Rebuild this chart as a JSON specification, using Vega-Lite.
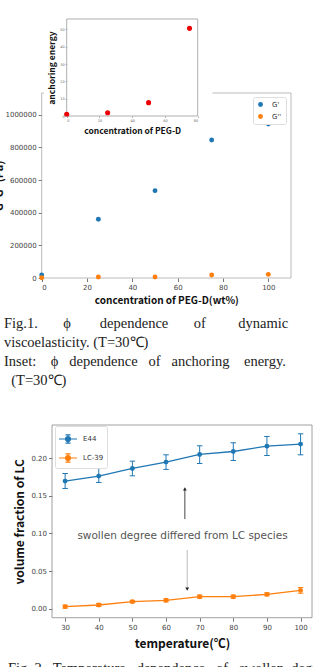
{
  "$schema": "https://vega.github.io/schema/vega-lite/v6.json",
  "width": 313,
  "height": 667,
  "autosize": {"type": "none"},
  "padding": 0,
  "background": "white",
  "config": {
    "view": {"stroke": null},
    "axis": {
      "grid": false,
      "domain": false,
      "labelFont": "DejaVu Sans",
      "labelColor": "#444",
      "labelFontSize": 7,
      "labelPadding": 2,
      "tickColor": "#555",
      "tickSize": 3.5,
      "tickWidth": 0.8,
      "titleFont": "Noto Sans CJK JP",
      "titleFontWeight": "bold",
      "titleColor": "#111"
    }
  },
  "datasets": {
    "viscoelastic": [
      {"conc": 0, "series": "G'", "modulus": 18000},
      {"conc": 25, "series": "G'", "modulus": 360000},
      {"conc": 50, "series": "G'", "modulus": 535000},
      {"conc": 75, "series": "G'", "modulus": 845000},
      {"conc": 100, "series": "G'", "modulus": 943000},
      {"conc": 0, "series": "G''", "modulus": 1500},
      {"conc": 25, "series": "G''", "modulus": 6000},
      {"conc": 50, "series": "G''", "modulus": 6000},
      {"conc": 75, "series": "G''", "modulus": 18000},
      {"conc": 100, "series": "G''", "modulus": 22000}
    ],
    "anchoring": [
      {"conc": 0, "energy": 1.0},
      {"conc": 25, "energy": 1.9},
      {"conc": 50, "energy": 7.7},
      {"conc": 75, "energy": 50.6}
    ],
    "volume": [
      {"series": "E44", "temp": 30, "v": 0.1695, "lo": 0.1597, "hi": 0.1796},
      {"series": "E44", "temp": 40, "v": 0.1761, "lo": 0.1677, "hi": 0.1872},
      {"series": "E44", "temp": 50, "v": 0.1863, "lo": 0.1765, "hi": 0.196},
      {"series": "E44", "temp": 60, "v": 0.1947, "lo": 0.185, "hi": 0.2044},
      {"series": "E44", "temp": 70, "v": 0.2049, "lo": 0.1929, "hi": 0.2164},
      {"series": "E44", "temp": 80, "v": 0.2088, "lo": 0.1969, "hi": 0.2204},
      {"series": "E44", "temp": 90, "v": 0.2159, "lo": 0.2035, "hi": 0.2288},
      {"series": "E44", "temp": 100, "v": 0.2186, "lo": 0.2044, "hi": 0.2323},
      {"series": "LC-39", "temp": 30, "v": 0.0027, "lo": 0.0007, "hi": 0.0047},
      {"series": "LC-39", "temp": 40, "v": 0.0049, "lo": 0.003, "hi": 0.0068},
      {"series": "LC-39", "temp": 50, "v": 0.0093, "lo": 0.0078, "hi": 0.011},
      {"series": "LC-39", "temp": 60, "v": 0.0111, "lo": 0.009, "hi": 0.013},
      {"series": "LC-39", "temp": 70, "v": 0.0159, "lo": 0.014, "hi": 0.018},
      {"series": "LC-39", "temp": 80, "v": 0.0159, "lo": 0.014, "hi": 0.018},
      {"series": "LC-39", "temp": 90, "v": 0.019, "lo": 0.017, "hi": 0.021},
      {"series": "LC-39", "temp": 100, "v": 0.0243, "lo": 0.0205, "hi": 0.028}
    ],
    "arrows": [
      {"dir": "up", "x": 65.6, "from": 0.119, "tip": 0.159},
      {"dir": "down", "x": 66.3, "from": 0.078, "tip": 0.026}
    ],
    "note": [
      {"x": 64.9, "y": 0.0965, "label": "swollen degree differed from LC species"}
    ],
    "caption1": [
      {"line": 1, "text": "Fig.1.\u00a0\u00a0\u00a0\u00a0\u00a0\u00a0\u00a0ϕ\u00a0\u00a0\u00a0\u00a0\u00a0\u00a0\u00a0\u00a0dependence\u00a0\u00a0\u00a0\u00a0\u00a0\u00a0\u00a0of\u00a0\u00a0\u00a0\u00a0\u00a0\u00a0\u00a0\u00a0\u00a0dynamic"},
      {"line": 2, "text": "viscoelasticity. (T=30℃)"},
      {"line": 3, "text": "Inset:\u00a0\u00a0\u00a0\u00a0ϕ\u00a0\u00a0\u00a0dependence\u00a0\u00a0\u00a0of\u00a0\u00a0\u00a0anchoring\u00a0\u00a0\u00a0\u00a0energy."},
      {"line": 4, "text": "\u200b\u00a0\u00a0(T=30℃)"}
    ],
    "caption2": [
      {"text": "Fig.\u00a02.\u00a0\u00a0Temperature\u00a0\u00a0\u00a0dependence\u00a0\u00a0\u00a0of\u00a0\u00a0\u00a0swollen\u00a0\u00a0degree"}
    ]
  },
  "resolve": {
    "scale": {"x": "independent", "y": "independent", "color": "independent"},
    "axis": {"x": "independent", "y": "independent"},
    "legend": {"color": "independent"}
  },
  "layer": [
    {
      "layer": [
        {
          "data": {"values": [{}]},
          "mark": {"type": "rect", "fill": null, "stroke": "#aaa", "strokeWidth": 0.8},
          "encoding": {
            "x": {"datum": 0, "type": "quantitative",
              "scale": {"domain": [0, 110], "range": [41.7, 291], "nice": false, "zero": false},
              "axis": {"orient": "bottom", "offset": -389, "values": [0, 20, 40, 60, 80, 100], "title": "concentration of PEG-D(wt%)", "titleFontSize": 10, "titlePadding": 5}},
            "x2": {"datum": 110},
            "y": {"datum": 0, "type": "quantitative",
              "scale": {"domain": [0, 1133000], "range": [278, 93], "nice": false, "zero": false},
              "axis": {"orient": "left", "offset": -41.7, "values": [0, 200000, 400000, 600000, 800000, 1000000], "format": "d", "title": "G' G''(Pa)", "titleFontSize": 11, "titlePadding": 1}},
            "y2": {"datum": 1133000}
          }
        },
        {
          "data": {"name": "viscoelastic"},
          "mark": {"type": "point", "filled": true, "size": 24, "opacity": 1},
          "encoding": {
            "x": {"field": "conc", "type": "quantitative"},
            "y": {"field": "modulus", "type": "quantitative"},
            "color": {"field": "series", "type": "nominal", "sort": null,
              "scale": {"domain": ["G'", "G''"], "range": ["#1f77b4", "#ff7f0e"]},
              "legend": {"orient": "none", "legendX": 253, "legendY": 97, "title": null, "symbolType": "circle", "symbolSize": 24, "labelFont": "DejaVu Sans", "labelFontSize": 7, "labelColor": "#333", "strokeColor": "#ddd", "fillColor": "white", "padding": 4, "cornerRadius": 2, "rowPadding": 4, "labelOffset": 8}}
          }
        }
      ]
    },
    {
      "layer": [
        {
          "data": {"values": [{}]},
          "mark": {"type": "rect", "fill": "white", "stroke": null},
          "encoding": {
            "x": {"datum": -14, "type": "quantitative",
              "scale": {"domain": [0, 80], "range": [66.7, 197.7], "nice": false, "zero": false},
              "axis": {"orient": "bottom", "offset": -551, "values": [0, 10, 20, 30, 40, 50, 60, 70, 80], "labelFontSize": 3.5, "tickSize": 1.5, "labelPadding": 1, "tickColor": "#999", "labelColor": "#666", "title": "concentration of PEG-D", "titleFontSize": 8.5, "titlePadding": 4, "zindex": 1}},
            "x2": {"datum": 89},
            "y": {"datum": -12, "type": "quantitative",
              "scale": {"domain": [0, 56], "range": [116, 19], "nice": false, "zero": false},
              "axis": {"orient": "left", "offset": -66.7, "values": [0, 10, 20, 30, 40, 50], "labelFontSize": 3.5, "tickSize": 1.5, "labelPadding": 1, "tickColor": "#999", "labelColor": "#666", "title": "anchoring energy", "titleFontSize": 8.5, "titlePadding": 3, "zindex": 1}},
            "y2": {"datum": 67}
          }
        },
        {
          "data": {"values": [{}]},
          "mark": {"type": "rect", "fill": null, "stroke": "#999", "strokeWidth": 0.8},
          "encoding": {
            "x": {"datum": 0, "type": "quantitative"},
            "x2": {"datum": 80},
            "y": {"datum": 0, "type": "quantitative"},
            "y2": {"datum": 56}
          }
        },
        {
          "data": {"name": "anchoring"},
          "mark": {"type": "point", "filled": true, "size": 26, "opacity": 1, "color": "#ee0000"},
          "encoding": {
            "x": {"field": "conc", "type": "quantitative"},
            "y": {"field": "energy", "type": "quantitative"}
          }
        }
      ]
    },
    {
      "layer": [
        {
          "data": {"values": [{}]},
          "mark": {"type": "rect", "fill": null, "stroke": "#888", "strokeWidth": 0.8},
          "encoding": {
            "x": {"datum": 26.1, "type": "quantitative",
              "scale": {"domain": [26.1, 103.4], "range": [52, 312], "nice": false, "zero": false},
              "axis": {"orient": "bottom", "offset": -49.3, "values": [30, 40, 50, 60, 70, 80, 90, 100], "title": "temperature(℃)", "titleFontSize": 12, "titlePadding": 8}},
            "x2": {"datum": 103.4},
            "y": {"datum": -0.012, "type": "quantitative",
              "scale": {"domain": [-0.012, 0.244], "range": [617.7, 425], "nice": false, "zero": false},
              "axis": {"orient": "left", "offset": -52, "values": [0, 0.05, 0.1, 0.15, 0.2], "format": ".2f", "title": "volume fraction of LC", "titleFontSize": 12, "titlePadding": 4}},
            "y2": {"datum": 0.244}
          }
        },
        {
          "data": {"name": "volume"},
          "mark": {"type": "rule", "strokeWidth": 1},
          "encoding": {
            "x": {"field": "temp", "type": "quantitative"},
            "y": {"field": "lo", "type": "quantitative"},
            "y2": {"field": "hi"},
            "color": {"field": "series", "type": "nominal", "scale": {"domain": ["E44", "LC-39"], "range": ["#1f77b4", "#ff7f0e"]}}
          }
        },
        {
          "data": {"name": "volume"},
          "mark": {"type": "tick", "orient": "horizontal", "size": 5.5, "thickness": 1, "opacity": 1},
          "encoding": {
            "x": {"field": "temp", "type": "quantitative"},
            "y": {"field": "lo", "type": "quantitative"},
            "color": {"field": "series", "type": "nominal"}
          }
        },
        {
          "data": {"name": "volume"},
          "mark": {"type": "tick", "orient": "horizontal", "size": 5.5, "thickness": 1, "opacity": 1},
          "encoding": {
            "x": {"field": "temp", "type": "quantitative"},
            "y": {"field": "hi", "type": "quantitative"},
            "color": {"field": "series", "type": "nominal"}
          }
        },
        {
          "data": {"name": "volume"},
          "mark": {"type": "line", "strokeWidth": 1.3},
          "encoding": {
            "x": {"field": "temp", "type": "quantitative"},
            "y": {"field": "v", "type": "quantitative"},
            "color": {"field": "series", "type": "nominal"}
          }
        },
        {
          "data": {"name": "volume"},
          "mark": {"type": "point", "filled": true, "size": 24, "opacity": 1},
          "encoding": {
            "x": {"field": "temp", "type": "quantitative"},
            "y": {"field": "v", "type": "quantitative"},
            "color": {"field": "series", "type": "nominal",
              "legend": {"orient": "none", "legendX": 55, "legendY": 426, "title": null,
                "symbolType": "M-1,0L1,0M0,-0.45L0,0.45M-0.28,-0.45L0.28,-0.45M-0.28,0.45L0.28,0.45M-0.28,0A0.28,0.28,0,1,1,0.28,0A0.28,0.28,0,1,1,-0.28,0Z",
                "symbolSize": 324, "symbolStrokeWidth": 1.2,
                "labelFont": "DejaVu Sans", "labelFontSize": 7, "labelColor": "#333",
                "strokeColor": "#ddd", "fillColor": "white", "padding": 3, "cornerRadius": 2, "rowPadding": 2, "labelOffset": 5}}
          }
        },
        {
          "data": {"name": "arrows"},
          "transform": [{"filter": "datum.dir === 'up'"}],
          "layer": [
            {
              "mark": {"type": "rule", "color": "#333", "strokeWidth": 0.9},
              "encoding": {
                "x": {"field": "x", "type": "quantitative"},
                "y": {"field": "from", "type": "quantitative"},
                "y2": {"field": "tip"}
              }
            },
            {
              "mark": {"type": "point", "shape": "triangle-up", "filled": true, "size": 14, "color": "#222", "opacity": 1},
              "encoding": {
                "x": {"field": "x", "type": "quantitative"},
                "y": {"field": "tip", "type": "quantitative"}
              }
            }
          ]
        },
        {
          "data": {"name": "arrows"},
          "transform": [{"filter": "datum.dir === 'down'"}],
          "layer": [
            {
              "mark": {"type": "rule", "color": "#aaa", "strokeWidth": 0.8},
              "encoding": {
                "x": {"field": "x", "type": "quantitative"},
                "y": {"field": "from", "type": "quantitative"},
                "y2": {"field": "tip"}
              }
            },
            {
              "mark": {"type": "point", "shape": "triangle-down", "filled": true, "size": 14, "color": "#222", "opacity": 1},
              "encoding": {
                "x": {"field": "x", "type": "quantitative"},
                "y": {"field": "tip", "type": "quantitative"}
              }
            }
          ]
        },
        {
          "data": {"name": "note"},
          "mark": {"type": "text", "font": "DejaVu Sans", "fontSize": 10.5, "color": "#555", "align": "center", "baseline": "middle"},
          "encoding": {
            "x": {"field": "x", "type": "quantitative"},
            "y": {"field": "y", "type": "quantitative"},
            "text": {"field": "label"}
          }
        }
      ]
    },
    {
      "data": {"name": "caption1"},
      "mark": {"type": "text", "font": "Liberation Serif", "fontSize": 14.5, "color": "#222", "align": "left", "baseline": "middle"},
      "encoding": {
        "x": {"datum": 0, "type": "quantitative", "scale": {"domain": [0, 1], "range": [4, 313], "nice": false, "zero": false}, "axis": null},
        "y": {"field": "line", "type": "quantitative", "scale": {"domain": [1, 4], "range": [324, 381], "nice": false, "zero": false}, "axis": null},
        "text": {"field": "text"}
      }
    },
    {
      "data": {"name": "caption2"},
      "mark": {"type": "text", "font": "Liberation Serif", "fontSize": 14.5, "color": "#222", "align": "left", "baseline": "alphabetic"},
      "encoding": {
        "x": {"datum": 0, "type": "quantitative", "scale": {"domain": [0, 1], "range": [8, 313], "nice": false, "zero": false}, "axis": null},
        "y": {"datum": 0, "type": "quantitative", "scale": {"domain": [0, 1], "range": [672.5, 700], "nice": false, "zero": false}, "axis": null},
        "text": {"field": "text"}
      }
    }
  ]
}
